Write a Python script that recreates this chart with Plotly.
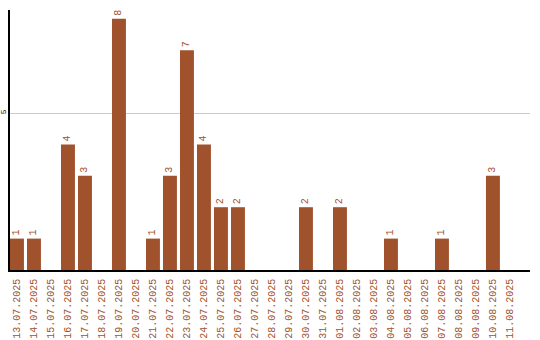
import plotly.graph_objects as go

dates = ["13.07.2025", "14.07.2025", "15.07.2025", "16.07.2025", "17.07.2025",
         "18.07.2025", "19.07.2025", "20.07.2025", "21.07.2025", "22.07.2025",
         "23.07.2025", "24.07.2025", "25.07.2025", "26.07.2025", "27.07.2025",
         "28.07.2025", "29.07.2025", "30.07.2025", "31.07.2025", "01.08.2025",
         "02.08.2025", "03.08.2025", "04.08.2025", "05.08.2025", "06.08.2025",
         "07.08.2025", "08.08.2025", "09.08.2025", "10.08.2025", "11.08.2025"]
counts = [1, 1, 0, 4, 3, 0, 8, 0, 1, 3, 7, 4, 2, 2, 0, 0, 0, 2, 0, 2,
          0, 0, 1, 0, 0, 1, 0, 0, 3, 0]

color = "#A0522D"
labels = [str(v) if v > 0 else "" for v in counts]

fig = go.Figure(go.Bar(
    x=dates, y=counts, marker_color=color, marker_line_width=0,
    text=labels, textposition="outside", textangle=-90,
    textfont=dict(family="Liberation Mono", size=10, color=color),
    cliponaxis=False,
))
fig.update_layout(
    width=540, height=340,
    margin=dict(l=10, r=10, t=10, b=70),
    plot_bgcolor="white", paper_bgcolor="white",
    bargap=0.18, showlegend=False,
)
fig.update_xaxes(
    type="category", range=[-0.41, 30.18], automargin=False,
    tickangle=-90, tickfont=dict(family="Liberation Mono", size=10, color=color),
    ticklabelstandoff=3,
    showline=True, linecolor="black", linewidth=1.5, showgrid=False, ticks="",
)
fig.update_yaxes(
    range=[0, 8.28], tickvals=[5], ticktext=["5"], tickangle=-90, automargin=False,
    tickfont=dict(family="Liberation Mono", size=8, color="black"),
    ticklabelstandoff=-1,
    showline=True, linecolor="black", linewidth=1.5,
    showgrid=True, gridcolor="#cccccc", gridwidth=1, zeroline=False, ticks="",
)
fig.write_html("out.html")
